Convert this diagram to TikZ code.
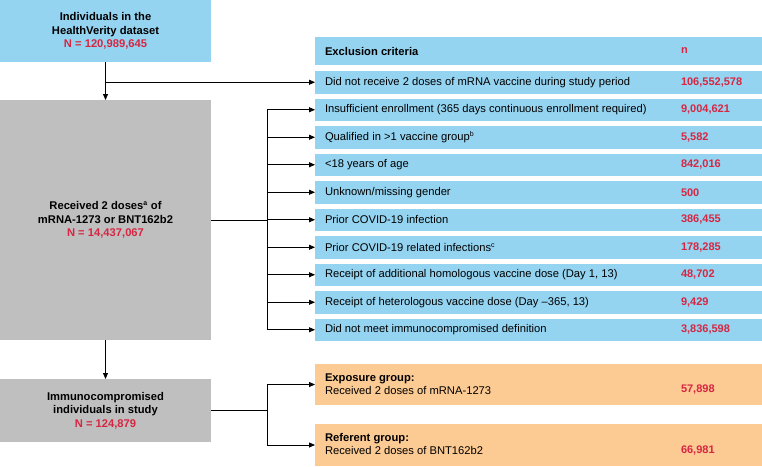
\documentclass[tikz,border=0pt]{standalone}
\usepackage{fontspec}
\setmainfont{Liberation Sans}
\usetikzlibrary{arrows.meta}
\definecolor{cblue}{RGB}{148,212,241}
\definecolor{cgrey}{RGB}{191,191,191}
\definecolor{corange}{RGB}{252,202,147}
\definecolor{cred}{RGB}{214,38,66}
\begin{document}
\begin{tikzpicture}[x=1pt,y=-1pt,
  every node/.style={inner sep=0pt,outer sep=0pt},
  lbox/.style={rectangle,anchor=north west,minimum width=211pt,align=center,font=\fontsize{11.2}{13.5}\selectfont\bfseries},
  row/.style={rectangle,fill=cblue,anchor=north west,minimum width=447pt,minimum height=22.5pt},
  orow/.style={rectangle,fill=corange,anchor=north west,minimum width=447pt},
  rtxt/.style={anchor=west,font=\fontsize{11.2}{13}\selectfont},
  num/.style={anchor=west,font=\fontsize{11}{13}\selectfont\bfseries,text=cred},
  arr/.style={-{Triangle[length=6pt,width=5pt]},line width=0.8pt},
  ln/.style={line width=0.8pt}]
\useasboundingbox (0,0) rectangle (762,466);
% left boxes
\node[lbox,fill=cblue,minimum height=62pt] (b1) at (0,0) {Individuals in the\\HealthVerity dataset\\\textcolor{cred}{N = 120,989,645}};
\node[lbox,fill=cgrey,minimum height=240pt] (b2) at (0,100) {Received 2 doses\textsuperscript{\scriptsize a} of\\mRNA-1273 or BNT162b2\\\textcolor{cred}{N = 14,437,067}};
\node[lbox,fill=cgrey,minimum height=63pt] (b3) at (0,379) {Immunocompromised\\individuals in study\\\textcolor{cred}{N = 124,879}};
% header
\node[row,minimum height=28pt] (h) at (315,37) {};
\node[rtxt,font=\fontsize{11.2}{13}\selectfont\bfseries] (ht) at (325,51) {Exclusion criteria};
\node[num] (hn) at (681,51) {n};
% rows
\foreach \i/\t/\n in {1/Did not receive 2 doses of mRNA vaccine during study period/106{,}552{,}578,
  2/Insufficient enrollment (365 days continuous enrollment required)/9{,}004{,}621,
  3/Qualified in >1 vaccine group\textsuperscript{\scriptsize b}/5{,}582,
  4/<18 years of age/842{,}016,
  5/Unknown\slash missing gender/500,
  6/Prior COVID-19 infection/386{,}455,
  7/Prior COVID-19 related infections\textsuperscript{\scriptsize c}/178{,}285,
  8/Receipt of additional homologous vaccine dose (Day 1{,} 13)/48{,}702,
  9/Receipt of heterologous vaccine dose (Day –365{,} 13)/9{,}429,
  10/Did not meet immunocompromised definition/3{,}836{,}598}{
  \node[row] (r\i) at (315,{71+(\i-1)*27.5}) {};
  \node[rtxt] (rt\i) at ([xshift=10pt]r\i.west) {\t};
  \node[num] (rn\i) at ([xshift=366pt]r\i.west) {\n};
}
% orange rows
\node[orow,minimum height=41pt] (e) at (315,364) {};
\node[rtxt,align=left] (et) at (325,384) {\textbf{Exposure group:}\\Received 2 doses of mRNA-1273};
\node[num] (en) at (681,390) {57,898};
\node[orow,minimum height=42pt] (f) at (315,424) {};
\node[rtxt,align=left] (ft) at (325,444) {\textbf{Referent group:}\\Received 2 doses of BNT162b2};
\node[num] (fn) at (681,451) {66,981};
% connectors
\coordinate (bx) at (267,0);
\draw[arr] (b1.south) -- (b2.north);
\draw[arr] (b2.south) -- (b3.north);
\draw[arr] (b1.south |- r1.west) -- (r1.west);
\draw[ln] (b2.east) -- (b2.east -| bx);
\draw[ln] (r2.west -| bx) -- (r10.west -| bx);
\foreach \i in {2,...,10}{\draw[arr] (r\i.west -| bx) -- (r\i.west);}
\draw[ln] (b3.east) -- (b3.east -| bx);
\draw[ln] (e.west -| bx) -- (f.west -| bx);
\draw[arr] (e.west -| bx) -- (e.west);
\draw[arr] (f.west -| bx) -- (f.west);
\end{tikzpicture}
\end{document}
